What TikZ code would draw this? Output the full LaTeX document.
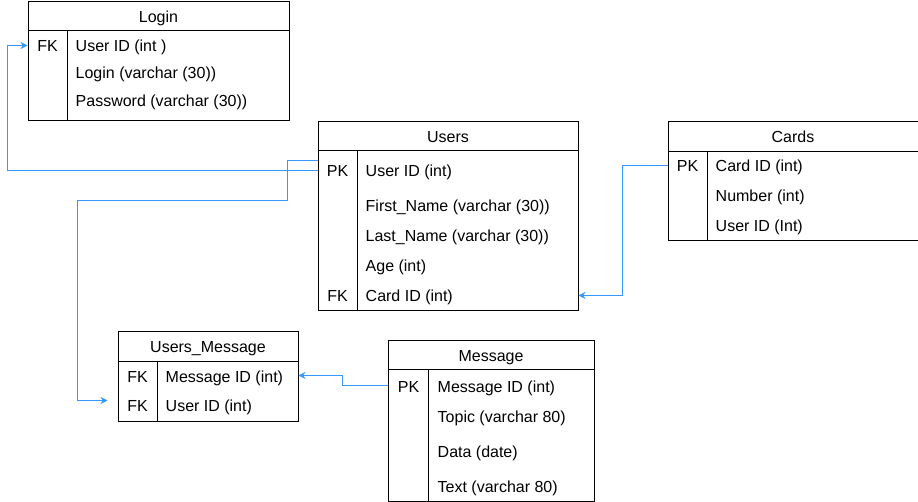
\documentclass[tikz,border=0pt]{standalone}
\usepackage{fontspec}
\setmainfont{Liberation Sans}
\usetikzlibrary{positioning,calc,arrows.meta}
\definecolor{linkblue}{RGB}{51,153,255}
\tikzset{
    >=Stealth, % filled arrow heads like draw.io
    every node/.append style={font=\fontsize{16}{19}\selectfont},
    table/.style={draw, line width=1pt, anchor=north west, inner sep=0pt, text height=11.5pt, text depth=0pt},
    field/.style={anchor=west, inner sep=0pt, text height=11.5pt, text depth=0pt},
    keyfield/.style={inner sep=0pt, text height=11.5pt, text depth=0pt},
    link/.style={-{Stealth[length=7pt,width=7pt]}, draw=linkblue, line width=1pt},
}

\begin{document}
\begin{tikzpicture}[x=1pt, y=-1pt]
\useasboundingbox (-0.5,-0.5) rectangle (917.5,501.5);

% Login
\node[table, minimum width=261pt, minimum height=29pt] (loginhead) at (27,1) {Login};
\node[table, minimum width=261pt, minimum height=90pt] (loginbody) at (27,30) {};
\draw[line width=1pt] ([xshift=40pt]loginbody.north west) -- ([xshift=40pt]loginbody.south west);
\node[keyfield] (loginfk) at (47,45) {FK};
\node[field] (loginuid) at (75,45) {User ID (int )};
\node[field] (loginlogin) at (75,72) {Login (varchar (30))};
\node[field] (loginpass) at (75,100) {Password (varchar (30))};

% Users
\node[table, minimum width=260pt, minimum height=29pt] (usershead) at (317,121) {Users};
\node[table, minimum width=260pt, minimum height=160pt] (usersbody) at (317,150) {};
\draw[line width=1pt] ([xshift=40pt]usersbody.north west) -- ([xshift=40pt]usersbody.south west);
\node[keyfield] (userspk) at (337,170) {PK};
\node[field] (usersuid) at (365,170) {User ID (int)};
\node[field] (usersfirst) at (365,205) {First\_Name (varchar (30))};
\node[field] (userslast) at (365,235) {Last\_Name (varchar (30))};
\node[field] (usersage) at (365,265) {Age (int)};
\node[keyfield] (usersfk) at (337,295) {FK};
\node[field] (userscard) at (365,295) {Card ID (int)};

% Cards
\node[table, minimum width=250pt, minimum height=30pt] (cardshead) at (667,121) {Cards};
\node[table, minimum width=250pt, minimum height=89pt] (cardsbody) at (667,151) {};
\draw[line width=1pt] ([xshift=40pt]cardsbody.north west) -- ([xshift=40pt]cardsbody.south west);
\node[keyfield] (cardspk) at (687,165) {PK};
\node[field] (cardscid) at (715,165) {Card ID (int)};
\node[field] (cardsnum) at (715,195) {Number (int)};
\node[field] (cardsuid) at (715,225) {User ID (Int)};

% Users_Message
\node[table, minimum width=180pt, minimum height=30pt] (umhead) at (117,331) {Users\_Message};
\node[table, minimum width=180pt, minimum height=59pt] (umbody) at (117,361) {};
\draw[line width=1pt] ([xshift=40pt]umbody.north west) -- ([xshift=40pt]umbody.south west);
\node[keyfield] (umfka) at (137,376) {FK};
\node[field] (ummid) at (165,376) {Message ID (int)};
\node[keyfield] (umfkb) at (137,405) {FK};
\node[field] (umuid) at (165,405) {User ID (int)};

% Message
\node[table, minimum width=206pt, minimum height=29pt] (messagehead) at (387,340) {Message};
\node[table, minimum width=206pt, minimum height=131pt] (messagebody) at (387,369) {};
\draw[line width=1pt] ([xshift=41pt]messagebody.north west) -- ([xshift=41pt]messagebody.south west);
\node[keyfield] (messagepk) at (408,386) {PK};
\node[field] (messagemid) at (437,386) {Message ID (int)};
\node[field] (messagetopic) at (437,416) {Topic (varchar 80)};
\node[field] (messagedata) at (437,451) {Data (date)};
\node[field] (messagetext) at (437,486) {Text (varchar 80)};

% links
\draw[link] (usersbody.west |- userspk) -- ++(-310,0) |- (loginbody.west |- loginfk);
\draw[link] ($(usersbody.north west)+(0,10)$) -- ++(-30,0) -- ++(0,40) -- ++(-210,0)
    |- ($(umbody.west |- umuid)+(-10,-5)$);
\draw[link] (cardsbody.west |- cardspk) -- ++(-45,0) |- (usersbody.east |- userscard);
\draw[link] ($(messagebody.west |- messagepk)+(0,-1)$) -- ++(-45,0) |- ($(umbody.east |- ummid)+(0,-1)$);
\end{tikzpicture}
\end{document}
